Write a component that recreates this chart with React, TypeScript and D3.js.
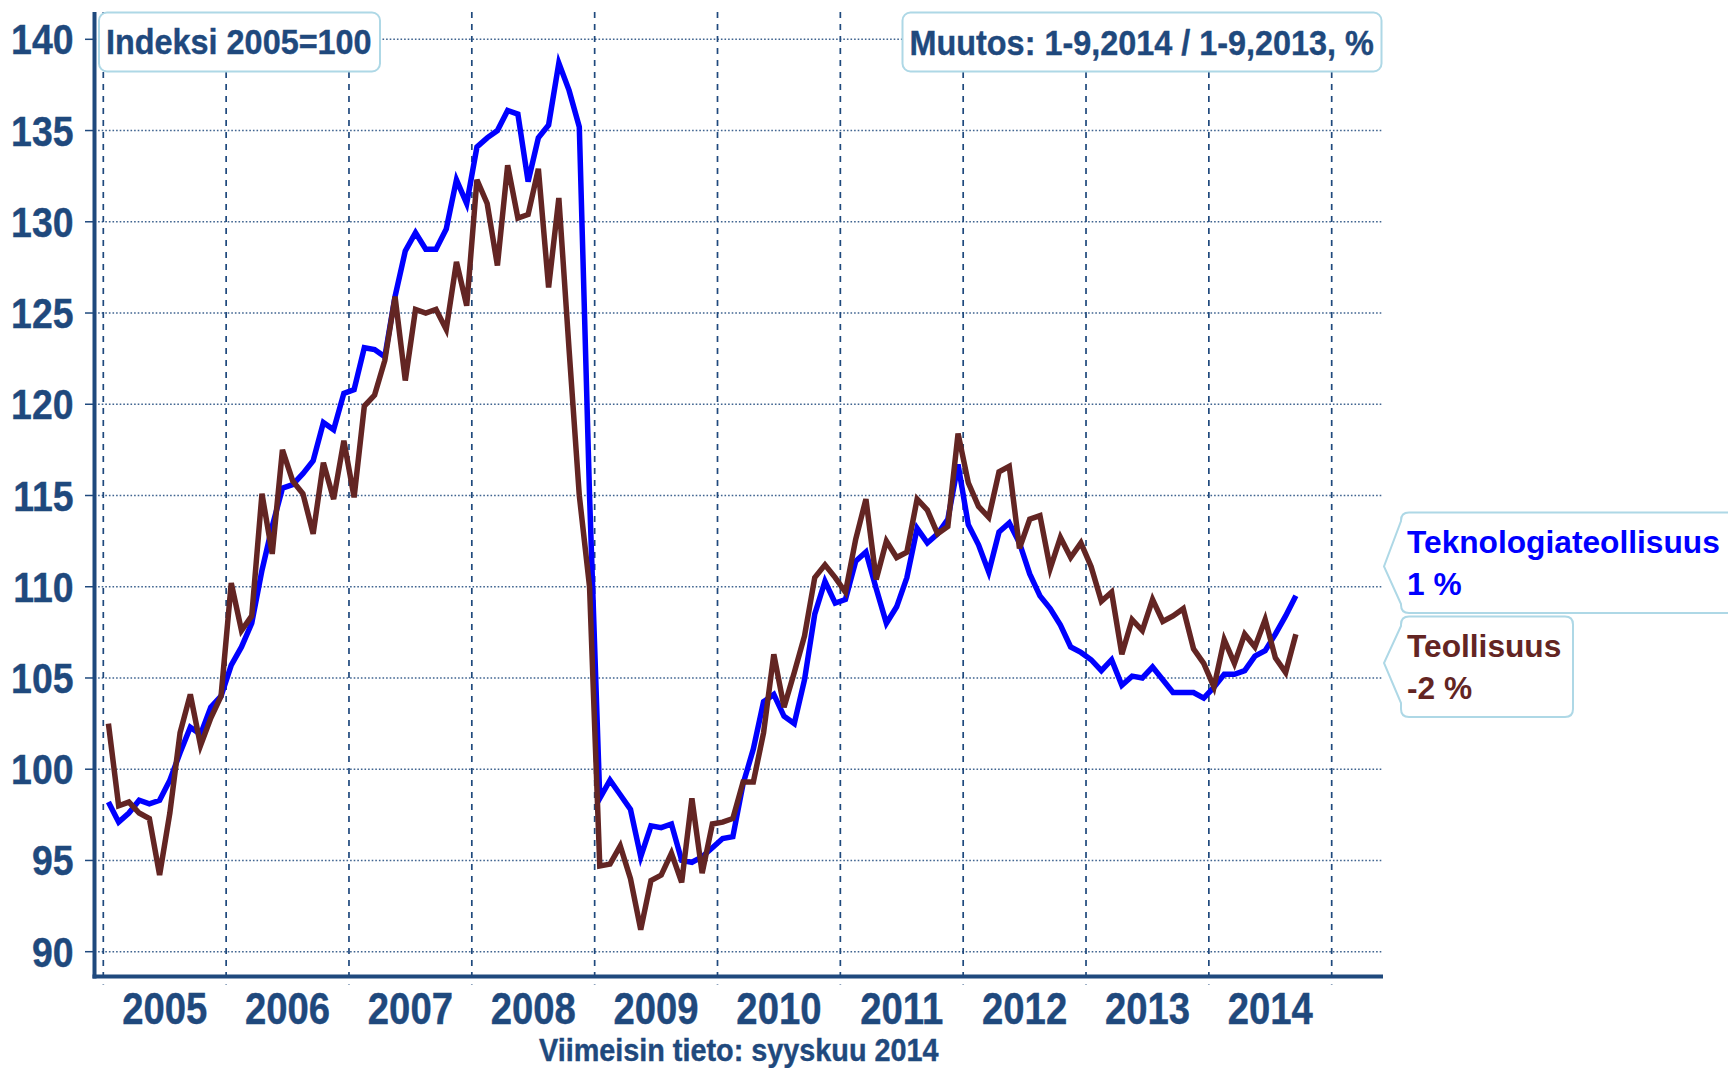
import React from 'react';
import * as d3 from 'd3';

// Indeksi 2005=100, monthly Jan 2005 .. Sep 2014
const years = [2005, 2006, 2007, 2008, 2009, 2010, 2011, 2012, 2013, 2014];
const yTicks = [90, 95, 100, 105, 110, 115, 120, 125, 130, 135, 140];

const teknologia = [
  98.2, 97.1, 97.6, 98.3, 98.1, 98.3, 99.4, 100.9, 102.3, 101.9, 103.4, 104.0,
  105.7, 106.7, 108.0, 110.9, 113.3, 115.4, 115.6, 116.2, 116.9, 119.0, 118.6, 120.6,
  120.8, 123.1, 123.0, 122.6, 125.9, 128.4, 129.4, 128.5, 128.5, 129.6, 132.3, 131.0,
  134.1, 134.6, 135.0, 136.1, 135.9, 132.2, 134.6, 135.3, 138.7, 137.2, 135.2, 115.0,
  98.4, 99.4, 98.6, 97.8, 95.2, 96.9, 96.8, 97.0, 95.0, 94.9, 95.2, 95.7,
  96.2, 96.3, 99.2, 101.1, 103.7, 104.1, 102.9, 102.5, 104.9, 108.5, 110.3, 109.1,
  109.3, 111.4, 111.9, 109.9, 108.0, 108.9, 110.5, 113.2, 112.4, 112.9, 113.7, 116.7,
  113.4, 112.3, 110.8, 113.0, 113.5, 112.4, 110.7, 109.5, 108.8, 107.9, 106.7, 106.4,
  106.0, 105.4, 106.0, 104.6, 105.1, 105.0, 105.6, 104.9, 104.2, 104.2, 104.2, 103.9,
  104.5, 105.2, 105.2, 105.4, 106.2, 106.5, 107.4, 108.4, 109.5,
];

const teollisuus = [
  102.5, 98.0, 98.2, 97.6, 97.3, 94.2, 97.6, 102.0, 104.1, 101.3, 102.8, 104.0,
  110.2, 107.6, 108.4, 115.1, 111.8, 117.5, 115.8, 115.1, 112.9, 116.8, 114.8, 118.0,
  114.9, 119.9, 120.5, 122.4, 125.9, 121.3, 125.2, 125.0, 125.2, 124.1, 127.8, 125.4,
  132.3, 131.0, 127.6, 133.1, 130.2, 130.4, 132.9, 126.4, 131.3, 123.0, 115.0, 110.0,
  94.7, 94.8, 95.8, 94.0, 91.2, 93.9, 94.2, 95.4, 93.8, 98.4, 94.3, 97.0,
  97.1, 97.3, 99.3, 99.3, 102.0, 106.3, 103.4, 105.3, 107.3, 110.5, 111.2, 110.5,
  109.7, 112.6, 114.8, 110.4, 112.5, 111.6, 111.9, 114.8, 114.2, 112.9, 113.3, 118.4,
  115.7, 114.4, 113.8, 116.3, 116.6, 112.1, 113.7, 113.9, 111.0, 112.7, 111.6, 112.4,
  111.1, 109.2, 109.7, 106.3, 108.2, 107.6, 109.3, 108.1, 108.4, 108.8, 106.6, 105.8,
  104.5, 107.1, 105.8, 107.4, 106.7, 108.2, 106.1, 105.3, 107.4,
];

const seriesLabels = ['Teknologiateollisuus', 'Teollisuus'];
const seriesChange = ['1 %', '-2 %'];

const W = 1728;
const H = 1068;
const left = 94.5;
const right = 1383;
const top = 12;
const bottom = 976.5;

const navy = '#1f497d';
const blue = '#0000ff';
const brown = '#632523';
const boxStroke = '#aed8e6';
const font = '"Liberation Sans", Arial, sans-serif';

const x = d3.scaleLinear().domain([2005, 2015]).range([103.3, 1331.7]);
const y = d3.scaleLinear().domain([90, 140]).range([951.7, 39.3]);
const monthPos = (i: number) => years[0] + (i + 0.5) / 12;

const line = d3
  .line<number>()
  .x((d, i) => x(monthPos(i)))
  .y(d => y(d));

// rounded box with a pointer on its left side
const callout = (l: number, t: number, r: number, b: number, rad: number, y1: number, tipX: number, tipY: number, y2: number) =>
  `M${l + rad},${t} H${r - rad} Q${r},${t} ${r},${t + rad} V${b - rad} Q${r},${b} ${r - rad},${b} H${l + rad} ` +
  `Q${l},${b} ${l},${b - rad} V${y2} L${tipX},${tipY} L${l},${y1} V${t + rad} Q${l},${t} ${l + rad},${t} Z`;

const Narrow = ({ x, y, size, sx, anchor = 'start', fill = navy, children }: any) => (
  <text
    transform={`translate(${x},${y}) scale(${sx},1)`}
    fontSize={size}
    fontFamily={font}
    fontWeight="bold"
    textAnchor={anchor}
    fill={fill}
    stroke={fill}
    strokeWidth={0.4}
  >
    {children}
  </text>
);

export default function App() {
  return (
    <svg width={W} height={H} style={{ position: 'absolute', left: 0, top: 0, background: '#fff' }}>
      <rect x={0} y={0} width={W} height={H} fill="#fff" />

      {/* horizontal dotted grid + ticks */}
      {yTicks.map(v => (
        <g key={v}>
          <line x1={left} x2={right} y1={y(v)} y2={y(v)} stroke={navy} strokeWidth={1.4} strokeDasharray="1.6,2" opacity={0.85} />
          <line x1={85} x2={left} y1={y(v)} y2={y(v)} stroke={navy} strokeWidth={1.5} />
          <Narrow x={73.5} y={y(v) + 15} size={43} sx={0.87} anchor="end">
            {v}
          </Narrow>
        </g>
      ))}

      {/* vertical dashed year lines */}
      {d3.range(years[0], years[years.length - 1] + 2).map(yr => (
        <line key={yr} x1={x(yr)} x2={x(yr)} y1={top} y2={bottom + 8} stroke={navy} strokeWidth={1.7} strokeDasharray="6,6" />
      ))}

      {/* axes */}
      <line x1={left} x2={left} y1={top} y2={bottom + 2} stroke={navy} strokeWidth={4} />
      <line x1={left - 2} x2={right} y1={bottom} y2={bottom} stroke={navy} strokeWidth={4} />

      {years.map(yr => (
        <Narrow key={yr} x={x(yr + 0.5)} y={1023.5} size={44} sx={0.87} anchor="middle">
          {yr}
        </Narrow>
      ))}

      <Narrow x={(left + right) / 2} y={1061} size={32} sx={0.9} anchor="middle">
        Viimeisin tieto: syyskuu 2014
      </Narrow>

      {/* series */}
      <path d={line(teknologia) || ''} fill="none" stroke={blue} strokeWidth={5.5} strokeLinejoin="miter" />
      <path d={line(teollisuus) || ''} fill="none" stroke={brown} strokeWidth={5.5} strokeLinejoin="miter" />

      {/* top boxes */}
      <rect x={99} y={12.5} width={281} height={59} rx={8} fill="#fff" stroke={boxStroke} strokeWidth={2} />
      <Narrow x={106} y={54} size={36} sx={0.9}>
        Indeksi 2005=100
      </Narrow>
      <rect x={902.5} y={12.5} width={479} height={59} rx={8} fill="#fff" stroke={boxStroke} strokeWidth={2} />
      <Narrow x={909.5} y={54.5} size={36} sx={0.9}>
        Muutos: 1-9,2014 / 1-9,2013, %
      </Narrow>

      {/* series label callouts */}
      <path d={callout(1401, 512.5, 1790, 613, 8, 521, 1384, 566.5, 604)} fill="#fff" stroke={boxStroke} strokeWidth={2} />
      <path d={callout(1401, 616.5, 1573, 717, 8, 626, 1384, 663, 703)} fill="#fff" stroke={boxStroke} strokeWidth={2} />
      {[blue, brown].map((c, i) => (
        <text key={i} fontFamily={font} fontWeight="bold" fontSize={31.7} fill={c}>
          <tspan x={1407} y={i === 0 ? 552.7 : 656.7}>{seriesLabels[i]}</tspan>
          <tspan x={1407} y={i === 0 ? 595 : 699.3}>{seriesChange[i]}</tspan>
        </text>
      ))}
    </svg>
  );
}
